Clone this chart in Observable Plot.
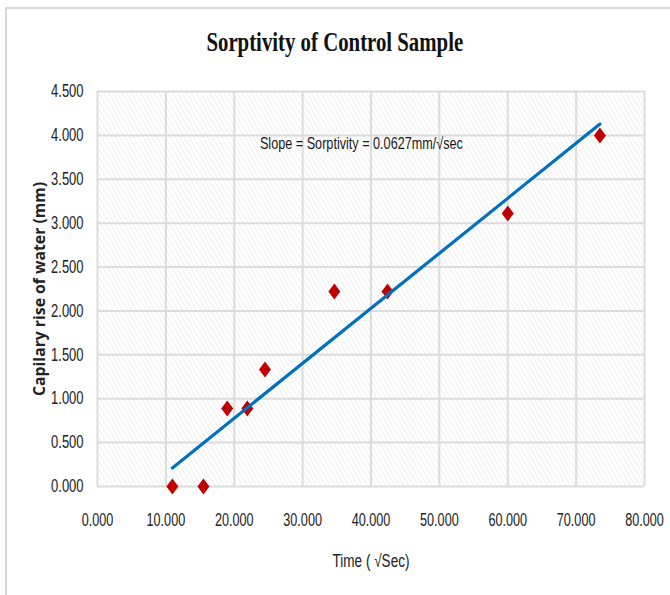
<!DOCTYPE html>
<html>
<head>
<meta charset="utf-8">
<script src="https://cdn.jsdelivr.net/npm/d3@7"></script>
<script src="https://cdn.jsdelivr.net/npm/@observablehq/plot@0.6"></script>
<style>
  html, body { margin: 0; padding: 0; background: #fff; }
  #wrap { position: relative; width: 670px; height: 595px; overflow: hidden; }
  #frame { position: absolute; left: 5px; top: 7px; width: 680px; height: 600px;
           border-top: 2px solid #d9d9d9; border-left: 2px solid #d9d9d9; }
  #title { position: absolute; left: 0; top: 26px; width: 670px; height: 40px; text-align: center; }
  #title span { display: inline-block; font-family: "Liberation Serif", serif; font-weight: bold;
                font-size: 28px; transform: scaleX(0.743); transform-origin: center; color: #111; }
  #chart { position: absolute; left: 0; top: 75px; }
  #chart svg { font-family: "Liberation Sans", Arial, sans-serif; overflow: visible; }
  #chart g[aria-label="y-axis label"] text { font-family: "Open Sans", sans-serif; font-weight: bold; font-size: 16px; fill: #222; }
  #chart g[aria-label="x-axis label"] text { font-family: "Liberation Sans", sans-serif; font-size: 18px; fill: #222; }
</style>
</head>
<body>
<div id="wrap">
  <div id="frame"></div>
  <div id="title"><span>Sorptivity of Control Sample</span></div>
  <div id="chart"></div>
</div>
<script>
// Time (√sec) and capillary rise (mm)
const timeSqrtSec = [10.954, 15.492, 18.974, 21.909, 24.495, 34.641, 42.426, 60.000, 73.485];
const capillaryRise = [0.000, 0.000, 0.889, 0.889, 1.333, 2.222, 2.222, 3.111, 4.000];
const xTicks = [0, 10, 20, 30, 40, 50, 60, 70, 80];
const yTicks = [0, 0.5, 1, 1.5, 2, 2.5, 3, 3.5, 4, 4.5];
const annotationText = ["Slope = Sorptivity = 0.0627mm/√sec"];
const annotationX = [38.6];
const annotationY = [3.9];

const data = timeSqrtSec.map((t, i) => ({t, h: capillaryRise[i]}));
const notes = annotationText.map((s, i) => ({s, x: annotationX[i], y: annotationY[i]}));

const diamond = {
  draw(context, size) {
    const w = 6, h = 8;
    context.moveTo(0, -h);
    context.lineTo(w, 0);
    context.lineTo(0, h);
    context.lineTo(-w, 0);
    context.closePath();
  }
};

const svg = Plot.plot({
  width: 670,
  height: 520,
  marginLeft: 97,
  marginRight: 26,
  marginTop: 16,
  marginBottom: 109,
  style: {fontSize: "18px", color: "#222", background: "transparent"},
  x: {domain: [0, 80], ticks: xTicks, tickFormat: d3.format(".3f"), tickSize: 0, tickPadding: 27,
      label: "Time ( √Sec)", labelAnchor: "center", labelOffset: 80, labelArrow: "none"},
  y: {domain: [0, 4.5], ticks: yTicks, tickFormat: d3.format(".3f"), tickSize: 0, tickPadding: 14,
      label: "Capilary rise of water (mm)", labelAnchor: "center", labelOffset: 64, labelArrow: "none"},
  marks: [
    Plot.frame({fill: "url(#hatch)", stroke: "none"}),
    Plot.gridX(xTicks, {stroke: "#dcdcdc", strokeWidth: 2, strokeOpacity: 1}),
    Plot.gridY(yTicks, {stroke: "#dcdcdc", strokeWidth: 2, strokeOpacity: 1}),
    Plot.dot(data, {x: "t", y: "h", symbol: diamond, fill: "#C00000", stroke: "none", r: 6}),
    Plot.linearRegressionY(data, {x: "t", y: "h", stroke: "#0070C0", strokeWidth: 3.2, ci: 0}),
    Plot.text(notes, {x: "x", y: "y", text: "s", fontSize: 16.5, fill: "#1a1a1a", textAnchor: "middle"})
  ]
});

const ns = "http://www.w3.org/2000/svg";
const defs = document.createElementNS(ns, "defs");
defs.innerHTML = '<pattern id="hatch" patternUnits="userSpaceOnUse" width="4" height="4" patternTransform="rotate(-30)">' +
  '<rect width="4" height="4" fill="#ffffff"/>' +
  '<line x1="0" y1="0" x2="0" y2="4" stroke="#e6e6e6" stroke-width="1.2"/></pattern>';
svg.insertBefore(defs, svg.firstChild);
document.getElementById("chart").appendChild(svg);

// horizontally condensed text, as in the reference
function condense(selector, factor, fixed) {
  svg.querySelectorAll(selector).forEach(t => {
    const len = t.getComputedTextLength();
    t.setAttribute("textLength", fixed ? fixed : len * factor);
    t.setAttribute("lengthAdjust", "spacingAndGlyphs");
  });
}
condense('g[aria-label="x-axis tick label"] text', 0.70);
condense('g[aria-label="y-axis tick label"] text', 0.72);
condense('g[aria-label="x-axis label"] text', 0, 77);
condense('g[aria-label="y-axis label"] text', 0, 214);
condense('g[aria-label="text"] text', 0, 203);
</script>
</body>
</html>
